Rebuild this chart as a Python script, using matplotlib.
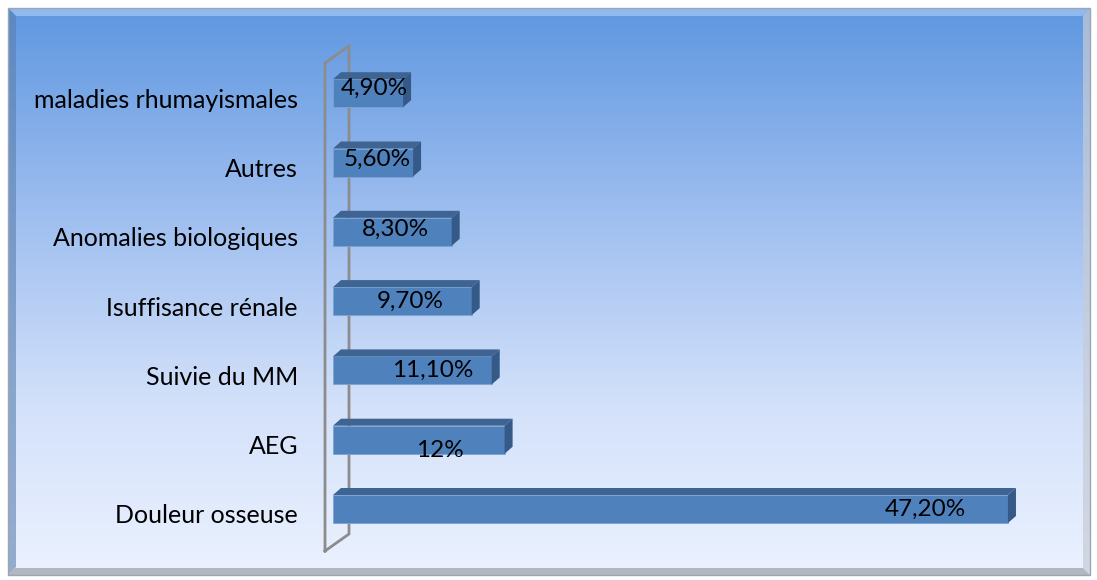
import numpy as np
import matplotlib.pyplot as plt
from matplotlib.patches import Polygon, Rectangle
from matplotlib.colors import LinearSegmentedColormap

categories = ["Douleur osseuse", "AEG", "Suivie du MM", "Isuffisance rénale",
              "Anomalies biologiques", "Autres", "maladies rhumayismales"]
values = [47.2, 12.0, 11.1, 9.7, 8.3, 5.6, 4.9]
value_labels = ["47,20%", "12%", "11,10%", "9,70%", "8,30%", "5,60%", "4,90%"]

# where each value label sits, relative to the bar end (x) and bar centre (y)
label_dx = [-5.8, -4.5, -4.1, -4.3, -3.9, -2.5, -2.0]
label_dy = [0.0, -0.15, 0.0, 0.0, 0.03, 0.05, 0.07]

W, H = 1097, 580
fig = plt.figure(figsize=(W / 100, H / 100), dpi=100)
fig.patch.set_facecolor("white")

# background panel with vertical gradient
bg = fig.add_axes([0, 0, 1, 1])
bg.set_xlim(0, W)
bg.set_ylim(H, 0)
bg.axis("off")
cmap = LinearSegmentedColormap.from_list(
    "bg", [(0.0, "#5f97e0"), (0.35, "#9cbdef"), (0.7, "#d3e1fa"), (1.0, "#ebf2ff")])
grad = np.linspace(0, 1, 256).reshape(-1, 1)
bg.imshow(grad, cmap=cmap, aspect="auto", extent=[8, 1090, 575, 8], zorder=0)
# bevel edges
bg.add_patch(Polygon([[8, 8], [1090, 8], [1082, 16], [16, 16]], closed=True,
                     facecolor="#9cc2f4", edgecolor="none", alpha=0.8, zorder=1))
bg.add_patch(Polygon([[8, 8], [16, 16], [16, 567], [8, 575]], closed=True,
                     facecolor="#5a7fae", edgecolor="none", alpha=0.6, zorder=1))
bg.add_patch(Polygon([[1090, 8], [1090, 575], [1083, 568], [1083, 15]], closed=True,
                     facecolor="#c6ccd6", edgecolor="none", alpha=0.7, zorder=1))
bg.add_patch(Polygon([[8, 575], [1090, 575], [1083, 568], [15, 568]], closed=True,
                     facecolor="#a8adb5", edgecolor="none", alpha=0.85, zorder=1))
bg.add_patch(Rectangle((8, 8), 1082, 567, fill=False, edgecolor="#9aa6b6", lw=1, zorder=2))

# plotting area: x=0 at px 333, 14.3 px per percent; bars 69.3 px apart
px_per_x = 14.3
px_per_y = 69.3
x0_px, y0_px = 333, 509
ax_left, ax_right = 300, 1080
ax_top, ax_bottom = 30, 570
ax = fig.add_axes([ax_left / W, 1 - ax_bottom / H,
                   (ax_right - ax_left) / W, (ax_bottom - ax_top) / H])
ax.set_xlim((ax_left - x0_px) / px_per_x, (ax_right - x0_px) / px_per_x)
ax.set_ylim((y0_px - ax_bottom) / px_per_y, (y0_px - ax_top) / px_per_y)
ax.axis("off")
ax.patch.set_alpha(0)

# back wall outline
dxw = 24 / px_per_x
dyw = 17 / px_per_y
xw = -8 / px_per_x
y_lo, y_hi = -42 / px_per_y, 446 / px_per_y
ax.plot([xw, xw, xw + dxw, xw + dxw, xw],
        [y_lo, y_hi, y_hi + dyw, y_lo + dyw, y_lo],
        color="#8c8c8c", lw=2, zorder=1, solid_joinstyle="miter")

ypos = np.arange(len(categories))
bh = 28 / px_per_y
ddx = 8 / px_per_x
ddy = 7 / px_per_y

for y, v, lab, ox, oy in zip(ypos, values, value_labels, label_dx, label_dy):
    ax.barh(y, v, height=bh, color="#4f81bd", edgecolor="#7fa3cf", lw=0.6, zorder=3)
    top = [[0, y + bh / 2], [v, y + bh / 2], [v + ddx, y + bh / 2 + ddy],
           [ddx, y + bh / 2 + ddy]]
    side = [[v, y - bh / 2], [v, y + bh / 2], [v + ddx, y + bh / 2 + ddy],
            [v + ddx, y - bh / 2 + ddy]]
    ax.add_patch(Polygon(top, closed=True, facecolor="#3d6493", edgecolor="none", zorder=3))
    ax.add_patch(Polygon(side, closed=True, facecolor="#355a87", edgecolor="none", zorder=3))
    ax.text(v + ox, y + oy, lab, ha="center", va="center", fontsize=17.5,
            family="Lato", color="black", zorder=4)

# category labels left of the wall, sitting a little below each bar
for y, c in zip(ypos, categories):
    ax.text(-35 / px_per_x, y - 0.1, c, ha="right", va="center", fontsize=18,
            family="Lato", color="black")

fig.savefig("out.png", dpi=100, facecolor="white")
